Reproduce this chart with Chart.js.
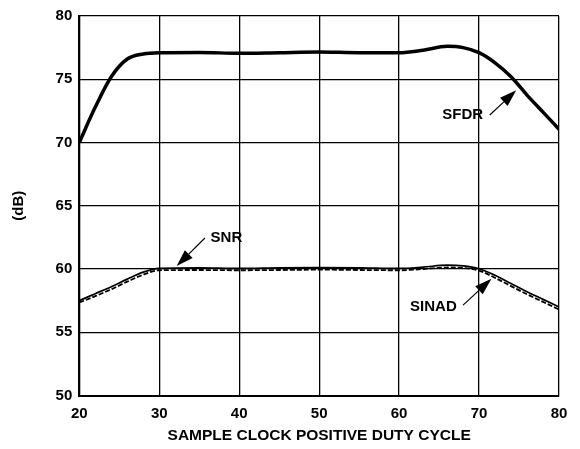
<!DOCTYPE html>
<html>
<head>
<meta charset="utf-8">
<script src="https://cdn.jsdelivr.net/npm/chart.js@4"></script>
<style>
  html, body { margin: 0; padding: 0; background: #fff; }
  #wrap { width: 580px; height: 449px; }
</style>
</head>
<body>
<div id="wrap"><canvas id="chart"></canvas></div>
<script>
const dutyCycle = [20, 22, 24, 26, 28, 30, 35, 40, 45, 50, 55, 60, 63, 66, 68, 70, 72, 74, 76, 78, 80];
const sfdr  = [70.0, 72.8, 75.2, 76.6, 77.0, 77.1, 77.12, 77.05, 77.1, 77.15, 77.1, 77.1, 77.3, 77.6, 77.5, 77.1, 76.3, 75.2, 73.75, 72.4, 71.05];
const snr   = [57.5, 58.05, 58.6, 59.2, 59.75, 60.05, 60.1, 60.05, 60.1, 60.12, 60.1, 60.05, 60.15, 60.3, 60.25, 60.02, 59.5, 58.85, 58.2, 57.6, 57.0];
const sinad = [57.35, 57.85, 58.4, 59.0, 59.55, 59.9, 59.92, 59.9, 59.92, 59.95, 59.92, 59.9, 60.0, 60.12, 60.08, 59.88, 59.3, 58.65, 58.0, 57.4, 56.8];

// callouts: label centre and arrow [tail, head] in data units
const callouts = [
  { text: 'SFDR',  label: [67.96, 72.17], tail: [71.34, 72.17], head: [74.65, 74.13] },
  { text: 'SNR',   label: [38.4, 62.5],   tail: [35.71, 62.45], head: [32.18, 60.23] },
  { text: 'SINAD', label: [64.29, 57.0],  tail: [68.0, 57.14],  head: [71.55, 59.23] }
];

const toPoints = ys => dutyCycle.map((x, i) => ({ x: x, y: ys[i] }));
const fontFamily = '"Liberation Sans", Arial, sans-serif';

const calloutPlugin = {
  id: 'callouts',
  afterDatasetsDraw(chart) {
    const { ctx, scales: { x, y } } = chart;
    ctx.save();
    ctx.fillStyle = '#000';
    ctx.strokeStyle = '#000';
    ctx.font = 'bold 15px ' + fontFamily;
    ctx.textAlign = 'center';
    ctx.textBaseline = 'middle';
    callouts.forEach(c => {
      ctx.fillText(c.text, x.getPixelForValue(c.label[0]), y.getPixelForValue(c.label[1]));
      const tx = x.getPixelForValue(c.tail[0]), ty = y.getPixelForValue(c.tail[1]);
      const hx = x.getPixelForValue(c.head[0]), hy = y.getPixelForValue(c.head[1]);
      const ang = Math.atan2(hy - ty, hx - tx);
      const cos = Math.cos(ang), sin = Math.sin(ang);
      const len = 17, half = 5.5;
      ctx.lineWidth = 1.2;
      ctx.beginPath();
      ctx.moveTo(tx, ty);
      ctx.lineTo(hx - cos * len, hy - sin * len);
      ctx.stroke();
      ctx.beginPath();
      ctx.moveTo(hx, hy);
      ctx.lineTo(hx - cos * len - sin * half, hy - sin * len + cos * half);
      ctx.lineTo(hx - cos * len + sin * half, hy - sin * len - cos * half);
      ctx.closePath();
      ctx.fill();
    });
    ctx.restore();
  }
};

const tickFont = { family: fontFamily, size: 15, weight: 'bold' };

new Chart(document.getElementById('chart'), {
  type: 'line',
  data: {
    datasets: [
      { label: 'SFDR', data: toPoints(sfdr), borderColor: '#000', borderWidth: 3.5, pointRadius: 0, cubicInterpolationMode: 'monotone', fill: false },
      { label: 'SNR', data: toPoints(snr), borderColor: '#000', borderWidth: 1.7, pointRadius: 0, cubicInterpolationMode: 'monotone', fill: false },
      { label: 'SINAD', data: toPoints(sinad), borderColor: '#000', borderWidth: 1.8, borderDash: [5, 2], pointRadius: 0, cubicInterpolationMode: 'monotone', fill: false }
    ]
  },
  options: {
    responsive: true,
    maintainAspectRatio: false,
    animation: false,
    layout: { padding: { top: 13, right: 21, left: 0, bottom: 0 } },
    plugins: {
      legend: { display: false },
      tooltip: { enabled: false }
    },
    scales: {
      x: {
        type: 'linear',
        min: 20,
        max: 80,
        ticks: { stepSize: 10, color: '#000', font: tickFont, padding: 9, maxRotation: 0 },
        grid: { color: '#000', lineWidth: 1.3, drawTicks: false },
        border: { color: '#000', width: 2 },
        title: {
          display: true,
          text: 'SAMPLE CLOCK POSITIVE DUTY CYCLE',
          color: '#000',
          font: { family: fontFamily, size: 15.5, weight: 'bold' },
          padding: { top: 2, bottom: 4 }
        },
        afterFit(scale) { scale.height = 53.5; }
      },
      y: {
        min: 50,
        max: 80,
        ticks: { stepSize: 5, color: '#000', font: tickFont, padding: 7 },
        grid: { color: '#000', lineWidth: 1.3, drawTicks: false },
        border: { color: '#000', width: 2 },
        title: {
          display: true,
          text: '(dB)',
          color: '#000',
          font: { family: fontFamily, size: 15, weight: 'bold' },
          padding: { top: 10, bottom: 0 }
        },
        afterFit(scale) { scale.width = 79.3; }
      }
    }
  },
  plugins: [calloutPlugin]
});
</script>
</body>
</html>
